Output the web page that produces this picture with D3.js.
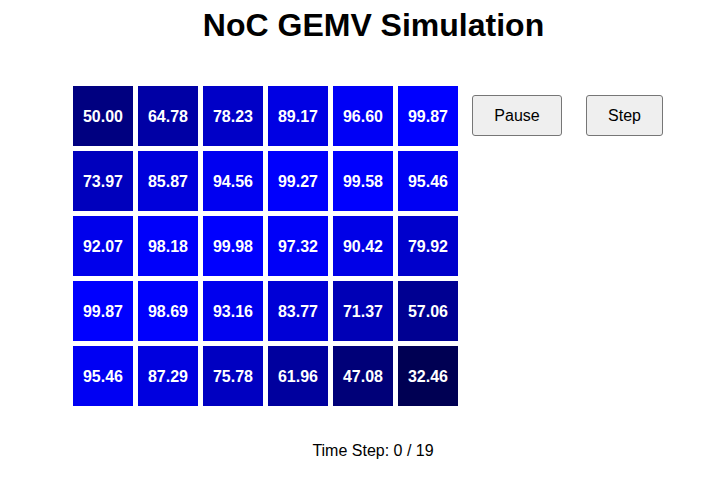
<!DOCTYPE html>
<html>
<head>
<meta charset="utf-8">
<script src="https://cdn.jsdelivr.net/npm/d3@7"></script>
<style>
  body { margin: 0; background: #fff; font-family: "Liberation Sans", Arial, sans-serif; }
  #wrap { position: relative; width: 728px; height: 481px; }
  button {
    position: absolute; top: 95px; height: 41px;
    font-family: "Liberation Sans", Arial, sans-serif; font-size: 16px;
    background: #efefef; border: 1px solid #767676; border-radius: 3px; color: #000;
    padding: 0;
  }
</style>
</head>
<body>
<div id="wrap"></div>
<script>
// values per row of the mesh
const row0 = [50.00, 64.78, 78.23, 89.17, 96.60, 99.87];
const row1 = [73.97, 85.87, 94.56, 99.27, 99.58, 95.46];
const row2 = [92.07, 98.18, 99.98, 97.32, 90.42, 79.92];
const row3 = [99.87, 98.69, 93.16, 83.77, 71.37, 57.06];
const row4 = [95.46, 87.29, 75.78, 61.96, 47.08, 32.46];
const rows = [row0, row1, row2, row3, row4];
const buttonLabels = ["Pause", "Step"];
const step = 0, totalSteps = 19;

var width = 728, height = 481;
var wrap = d3.select("#wrap");

var svg = wrap.append("svg")
  .attr("width", width)
  .attr("height", height)
  .style("position", "absolute")
  .style("left", 0).style("top", 0);

svg.append("text")
  .attr("x", 373.5).attr("y", 36)
  .attr("text-anchor", "middle")
  .style("font-size", "32px").style("font-weight", "bold")
  .text("NoC GEMV Simulation");

var cells = [];
rows.forEach(function(r, i) {
  r.forEach(function(v, j) { cells.push({ row: i, col: j, value: v }); });
});

var x = d3.scaleBand().domain(d3.range(6)).range([73, 458]).paddingInner(5 / 65).paddingOuter(0);
var y = d3.scaleBand().domain(d3.range(5)).range([86, 406]).paddingInner(5 / 65).paddingOuter(0);
var color = d3.scaleLinear().domain([0, 100]).range(["#000000", "#0000ff"]);

var g = svg.selectAll("g.cell")
  .data(cells)
  .enter()
  .append("g")
  .attr("class", "cell");

g.append("rect")
  .attr("x", d => x(d.col))
  .attr("y", d => y(d.row))
  .attr("width", x.bandwidth())
  .attr("height", y.bandwidth())
  .attr("fill", d => color(d.value));

g.append("text")
  .attr("x", d => x(d.col) + x.bandwidth() / 2)
  .attr("y", d => y(d.row) + y.bandwidth() / 2)
  .attr("dy", "0.35em")
  .attr("text-anchor", "middle")
  .attr("fill", "#fff")
  .style("font-size", "16px").style("font-weight", "bold")
  .text(d => d.value.toFixed(2));

svg.append("text")
  .attr("x", 373).attr("y", 456)
  .attr("text-anchor", "middle")
  .style("font-size", "16px")
  .text("Time Step: " + step + " / " + totalSteps);

// control buttons
var btnLeft = [472, 586], btnWidth = [90, 77];
wrap.selectAll("button")
  .data(buttonLabels)
  .enter()
  .append("button")
  .style("left", (d, i) => btnLeft[i] + "px")
  .style("width", (d, i) => btnWidth[i] + "px")
  .text(d => d);
</script>
</body>
</html>
